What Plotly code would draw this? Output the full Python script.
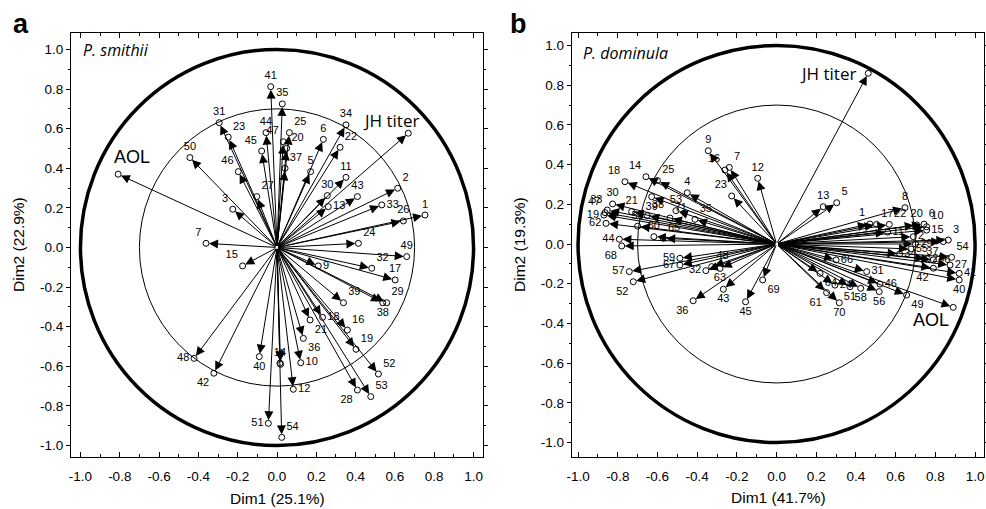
import plotly.graph_objects as go

# ---------------- Panel a: P. smithii ----------------
a_labels = ["41", "35", "31", "23", "44", "45", "47", "25", "20", "37", "50", "46", "27", "3", "7", "15",
            "6", "34", "22", "5", "11", "30", "13", "43", "2", "33", "1", "26", "24", "49", "32", "17",
            "9", "29", "38", "39", "16", "18", "21", "36", "10", "12", "19", "52", "28", "53", "54",
            "14", "4", "48", "42", "40", "51"]
a_dim1 = [-0.032, 0.027, -0.294, -0.248, -0.056, -0.078, 0.032, 0.063, 0.049, 0.041, -0.443, -0.197,
          -0.103, -0.225, -0.361, -0.175, 0.236, 0.351, 0.321, 0.171, 0.351, 0.256, 0.261, 0.409,
          0.614, 0.533, 0.753, 0.643, 0.414, 0.660, 0.482, 0.601, 0.210, 0.558, 0.538, 0.338,
          0.358, 0.232, 0.168, 0.134, 0.121, 0.083, 0.402, 0.516, 0.409, 0.477, 0.024,
          0.015, 0.018, -0.422, -0.321, -0.090, -0.044]
a_dim2 = [0.812, 0.725, 0.630, 0.557, 0.580, 0.487, 0.534, 0.580, 0.501, 0.400, 0.454, 0.383,
          0.257, 0.193, 0.021, -0.093, 0.546, 0.619, 0.506, 0.383, 0.354, 0.262, 0.206, 0.257,
          0.299, 0.215, 0.164, 0.134, 0.021, -0.046, -0.105, -0.164, -0.093, -0.279, -0.279, -0.279,
          -0.417, -0.353, -0.366, -0.459, -0.582, -0.716, -0.514, -0.639, -0.720, -0.753, -0.959,
          -0.584, -0.590, -0.560, -0.635, -0.551, -0.888]
a_textpos = ["top center", "top center", "top center", "top right", "top center", "top left", "top left",
             "top right", "top right", "top right", "top center", "top left", "top right", "top left",
             "top left", "top left", "top center", "top center", "top right", "top center", "top center",
             "top center", "middle right", "top center", "top right", "middle right", "top center",
             "top center", "top right", "top center", "top right", "top center", "middle right",
             "top right", "bottom center", "top right", "top right", "middle right", "bottom right",
             "bottom right", "middle right", "middle right", "top right", "top right", "bottom left",
             "top right", "top right", "top center", "top center", "middle left", "bottom left",
             "bottom center", "middle left"]
a_traits = ["JH titer", "AOL"]
a_trait_dim1 = [0.668, -0.808]
a_trait_dim2 = [0.577, 0.370]

# ---------------- Panel b: P. dominula ----------------
b_labels = ["13", "5", "8", "1", "17", "22", "20", "6", "10", "15", "2", "3", "37", "55", "54", "26",
            "27", "28", "42", "41", "40", "49", "46", "56", "58", "51", "24", "64", "61", "70", "31",
            "66", "11", "29", "34",
            "9", "7", "16", "12", "23", "18", "14", "25", "4", "21", "39", "53", "35", "30", "33",
            "47", "19", "62", "44", "68", "38", "71", "60", "65", "59", "67", "57", "52", "32", "48",
            "63", "43", "36", "45", "69", "50"]
b_dim1 = [0.235, 0.303, 0.647, 0.470, 0.504, 0.568, 0.706, 0.743, 0.756, 0.756, 0.689, 0.865, 0.840,
          0.677, 0.882, 0.790, 0.874, 0.760, 0.790, 0.920, 0.920, 0.655, 0.521, 0.517, 0.424, 0.370,
          0.294, 0.219, 0.252, 0.316, 0.454, 0.300, 0.560, 0.700, 0.620,
          -0.344, -0.238, -0.260, -0.095, -0.226, -0.764, -0.658, -0.600, -0.450, -0.730, -0.629,
          -0.507, -0.411, -0.826, -0.853, -0.864, -0.870, -0.859, -0.792, -0.780, -0.652, -0.537,
          -0.618, -0.571, -0.487, -0.487, -0.742, -0.722, -0.356, -0.327, -0.285, -0.268, -0.420,
          -0.156, -0.070, -0.700]
b_dim2 = [0.188, 0.208, 0.183, 0.101, 0.099, 0.099, 0.096, 0.100, 0.087, 0.070, 0.037, 0.020, 0.012,
          -0.025, -0.067, -0.080, -0.106, -0.075, -0.122, -0.148, -0.181, -0.257, -0.202, -0.240,
          -0.223, -0.215, -0.207, -0.148, -0.245, -0.296, -0.139, -0.080, 0.060, 0.000, -0.050,
          0.470, 0.386, 0.373, 0.331, 0.242, 0.314, 0.339, 0.320, 0.258, 0.163, 0.238, 0.168, 0.124,
          0.202, 0.171, 0.158, 0.146, 0.104, 0.024, -0.010, 0.143, 0.131, 0.037, 0.029, -0.072,
          -0.106, -0.139, -0.190, -0.134, -0.114, -0.123, -0.228, -0.286, -0.291, -0.181, 0.090]
b_textpos = ["top center", "top right", "top center", "top left", "top right", "top right", "top center",
             "top right", "top right", "middle right", "middle right", "top right", "bottom left",
             "middle right", "top right", "middle right", "middle right", "middle right", "bottom left",
             "middle right", "bottom center", "bottom right", "middle right", "bottom center",
             "bottom center", "bottom center", "middle right", "bottom right", "bottom left",
             "bottom center", "middle right", "middle right", "middle right", "middle right",
             "middle right",
             "top center", "top right", "top left", "top center", "top left", "top left", "top left",
             "top right", "top center", "top center", "bottom center", "top center", "top right",
             "top center", "top left", "top left", "middle left", "middle left", "middle left",
             "bottom left", "top right", "top right", "top center", "top right", "middle left",
             "middle left", "middle left", "bottom left", "middle left", "top right", "bottom center",
             "bottom center", "bottom left", "bottom center", "bottom right", "top center"]
b_traits = ["JH titer", "AOL"]
b_trait_dim1 = [0.462, 0.890]
b_trait_dim2 = [0.860, -0.319]

tick_vals = [-1.0, -0.8, -0.6, -0.4, -0.2, 0.0, 0.2, 0.4, 0.6, 0.8, 1.0]
tick_text = ["-1.0", "-0.8", "-0.6", "-0.4", "-0.2", "0.0", "0.2", "0.4", "0.6", "0.8", "1.0"]

UNIT_R = 1.0
INNER_R = 0.7

# the page body margin is removed by a post script, so the figure fills the window
W, H, OFF = 986, 509, 0


def fx(p):
    return (p - OFF) / W


def fy(p):
    return 1 - (p - OFF) / H


NUM_FONT = dict(family="Liberation Sans, Arial, sans-serif", size=11, color="black")
TICK_FONT = dict(family="Liberation Sans, Arial, sans-serif", size=13.5, color="black")

fig = go.Figure()
annotations = []
shapes = []


def add_panel(xa, ya, labels, d1, d2, tpos, traits, t1, t2, trait_shifts):
    for r, w in [(UNIT_R, 3.5), (INNER_R, 1)]:
        shapes.append(dict(type="circle", xref=xa, yref=ya, x0=-r, x1=r, y0=-r, y1=r,
                           line=dict(color="black", width=w), layer="below"))
    for x, y in list(zip(d1, d2)) + list(zip(t1, t2)):
        annotations.append(dict(x=x, y=y, ax=0, ay=0, xref=xa, yref=ya, axref=xa, ayref=ya,
                                text="", showarrow=True, arrowhead=2, arrowsize=1.8,
                                arrowwidth=1, arrowcolor="black", standoff=3))
    fig.add_trace(go.Scatter(x=d1, y=d2, mode="markers+text", text=labels, textposition=tpos,
                             textfont=NUM_FONT, cliponaxis=False,
                             marker=dict(symbol="circle-open", size=6, color="black",
                                         line=dict(width=1)),
                             xaxis=xa, yaxis=ya, showlegend=False, hoverinfo="skip"))
    fig.add_trace(go.Scatter(x=t1, y=t2, mode="markers",
                             marker=dict(symbol="circle-open", size=6, color="black",
                                         line=dict(width=1)),
                             xaxis=xa, yaxis=ya, showlegend=False, hoverinfo="skip"))
    fonts = [dict(family="Open Sans, sans-serif", size=17, color="black"),
             dict(family="Liberation Sans, Arial, sans-serif", size=18, color="black")]
    for name, x, y, (sx, sy), f in zip(traits, t1, t2, trait_shifts, fonts):
        annotations.append(dict(x=x, y=y, xref=xa, yref=ya, text=name, showarrow=False,
                                xanchor="center", yanchor="middle",
                                xshift=sx, yshift=sy, font=f))


add_panel("x", "y", a_labels, a_dim1, a_dim2, a_textpos, a_traits, a_trait_dim1, a_trait_dim2,
          [(-17, 13), (14, 17)])
add_panel("x2", "y2", b_labels, b_dim1, b_dim2, b_textpos, b_traits, b_trait_dim1, b_trait_dim2,
          [(-40, 0), (-22, -13)])

ydom = [fy(457), fy(33)]
axis_common = dict(showline=True, linecolor="black", linewidth=1, mirror="ticks", showgrid=False,
                   zeroline=False, tickvals=tick_vals, ticktext=tick_text, tickfont=TICK_FONT,
                   tickcolor="black", automargin=False)
fig.update_layout(
    width=W, height=H, margin=dict(l=0, r=0, t=0, b=0, pad=0, autoexpand=False),
    paper_bgcolor="white", plot_bgcolor="white",
    xaxis=dict(domain=[fx(71), fx(483)], range=[-1.048, 1.048], ticks="inside", ticklen=5,
               ticklabelstandoff=7,
               minor=dict(ticks="inside", ticklen=3, dtick=0.1, tick0=0, tickcolor="black"),
               **axis_common),
    yaxis=dict(domain=ydom, range=[-1.058, 1.083], ticks="outside", ticklen=4,
               minor=dict(ticks="outside", ticklen=2, dtick=0.1, tick0=0, tickcolor="black"),
               **axis_common),
    xaxis2=dict(domain=[fx(571.7), fx(984)], range=[-1.032, 1.045], ticks="inside", ticklen=5,
                anchor="y2", ticklabelstandoff=7,
                minor=dict(ticks="inside", ticklen=3, dtick=0.1, tick0=0, tickcolor="black"),
                **axis_common),
    yaxis2=dict(domain=ydom, range=[-1.073, 1.063], ticks="outside", ticklen=4, anchor="x2",
                minor=dict(ticks="outside", ticklen=2, dtick=0.1, tick0=0, tickcolor="black"),
                **axis_common),
    shapes=shapes,
)

TITLE_FONT = dict(family="Liberation Sans, Arial, sans-serif", size=15.5, color="black")


def paper_text(text, px, py, font, xanchor="center", angle=0):
    return dict(text=text, x=fx(px), y=fy(py), xref="paper", yref="paper", showarrow=False,
                xanchor=xanchor, yanchor="middle", textangle=angle, font=font)


LETTER_FONT = dict(family="Liberation Sans, Arial, sans-serif", size=27, color="black")
SPECIES_FONT = dict(family="Open Sans, sans-serif", size=16, color="black")
annotations += [
    paper_text("<b>a</b>", 21, 24, LETTER_FONT),
    paper_text("<b>b</b>", 518, 24, LETTER_FONT),
    paper_text("<i>P. smithii</i>", 81, 50, SPECIES_FONT, xanchor="left"),
    paper_text("<i>P. dominula</i>", 581, 53, SPECIES_FONT, xanchor="left"),
    paper_text("Dim1 (25.1%)", 277, 498, TITLE_FONT),
    paper_text("Dim1 (41.7%)", 778, 497, TITLE_FONT),
    paper_text("Dim2 (22.9%)", 18, 245, TITLE_FONT, angle=-90),
    paper_text("Dim2 (19.3%)", 519, 245, TITLE_FONT, angle=-90),
]
fig.update_layout(annotations=annotations)

fig.write_html("out.html", config={"displayModeBar": False},
               post_script="document.body.style.margin='0';document.body.style.overflow='hidden';")
